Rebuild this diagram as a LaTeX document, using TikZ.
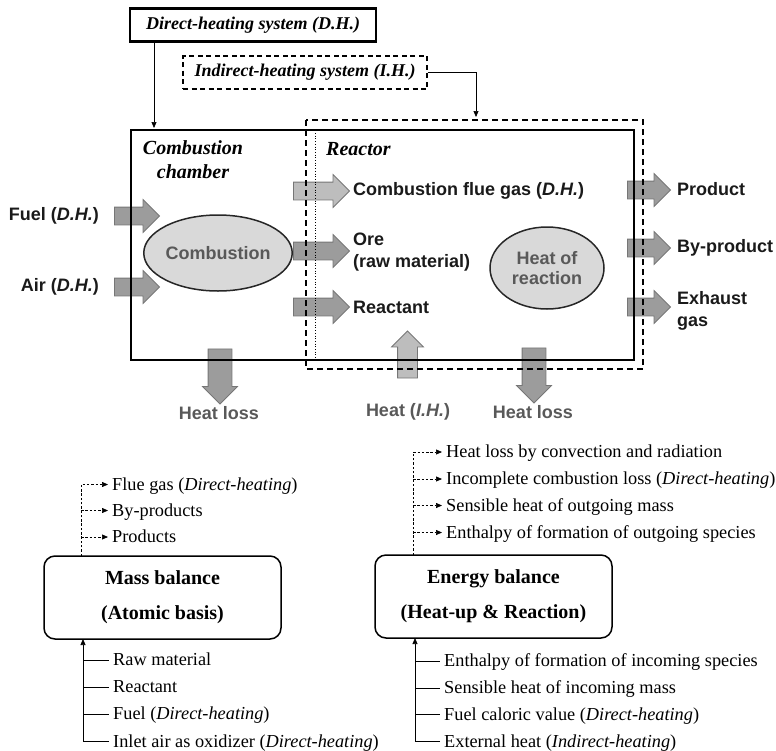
\documentclass[tikz,border=0pt]{standalone}
\usepackage{fontspec}
\setmainfont{Liberation Serif}
\newfontfamily\arialf{Liberation Sans}
\usetikzlibrary{shapes.arrows,shapes.geometric,arrows.meta}
\definecolor{arrfill}{HTML}{9C9C9C}
\definecolor{arrlight}{HTML}{BDBDBD}
\definecolor{arrline}{HTML}{767676}
\definecolor{ellfill}{HTML}{D9D9D9}
\definecolor{txtgray}{HTML}{595959}
\definecolor{txtdark}{HTML}{1A1A1A}
\begin{document}
\begin{tikzpicture}[x=1pt,y=-1pt,
  blk/.style={single arrow, draw=arrline, line width=0.8pt, fill=arrfill, inner xsep=0pt, inner ysep=8.5pt,
    minimum width=0pt, single arrow head extend=7.5pt, minimum height=#1},
  blkv/.style={single arrow, draw=arrline, line width=0.8pt, fill=arrfill, inner xsep=0pt, inner ysep=11.5pt,
    minimum width=0pt, single arrow head extend=5.5pt, minimum height=#1},
  sanslbl/.style={font=\arialf\bfseries\fontsize{18}{22}\selectfont, text=txtdark, inner sep=0pt},
  graylbl/.style={font=\arialf\bfseries\fontsize{18}{22}\selectfont, text=txtgray, inner sep=0pt},
  titlebox/.style={font=\bfseries\itshape\fontsize{18}{22}\selectfont, inner sep=0pt, minimum height=33pt},
  bigital/.style={font=\bfseries\itshape\fontsize{20}{24}\selectfont, inner sep=0pt, align=center},
  reacell/.style={ellipse, draw=black!85, line width=1.5pt, fill=ellfill, inner sep=0pt,
    font=\arialf\bfseries\fontsize{18}{20}\selectfont, text=txtgray, align=center},
  balbox/.style={draw, line width=1.5pt, rounded corners=11pt, minimum width=237pt, minimum height=83pt,
    inner sep=0pt, align=center, font=\bfseries\fontsize{20}{35}\selectfont},
  item/.style={anchor=base west, inner sep=0pt, font=\fontsize{18.3}{20}\selectfont},
  thin/.style={line width=0.7pt, -{Triangle[length=6pt,width=5pt]}},
  thindash/.style={line width=0.7pt, dash pattern=on 2.5pt off 1.8pt, -{Triangle[length=6pt,width=5pt]}},
  stub/.style={line width=0.7pt}
]
\useasboundingbox (0,0) rectangle (776,750);

% ---------- system boxes ----------
\node[titlebox, draw, line width=2.2pt, minimum width=246pt] (dh) at (253,25) {Direct-heating system (D.H.)};
\node[titlebox, draw, line width=1.3pt, dash pattern=on 5pt off 3.5pt, minimum width=244pt] (ih) at (305,72.5) {Indirect-heating system (I.H.)};
\coordinate (dhT) at (154,128);
\coordinate (ihT) at (476,117);
\draw[thin] (dh.south -| dhT) -- (dhT);
\draw[thin] (ih.east) -| (ihT);

% ---------- block arrows ----------
\node[blk=45pt] (afuel) at (132.5,216) {};
\node[blk=45pt] (aair) at (132.5,287) {};
\node[blk=56pt, fill=arrlight] (aflue) at (317,191) {};
\node[blk=56pt] (aore) at (317,251) {};
\node[blk=56pt] (areac) at (317,307) {};
\node[blk=43pt] (aprod) at (644.5,190) {};
\node[blk=43pt] (abyp) at (644.5,248) {};
\node[blk=43pt] (aexh) at (644.5,307) {};
\node[blkv=55pt, rotate=-90] (aloss1) at (220,370.5) {};
\node[blkv=55pt, rotate=-90] (aloss2) at (534,369.5) {};
\node[blkv=47pt, rotate=90, fill=arrlight, inner ysep=9.5pt, single arrow head extend=6pt] (aheat) at (407.5,359.5) {};

% ---------- reactor boxes ----------
\draw[line width=2pt] (131,130) rectangle (634,360);
\draw[line width=1.4pt, dash pattern=on 6pt off 4pt] (306,120) rectangle (643,369);
\draw[line width=0.7pt, dotted] (315,133) -- (315,358);

% ---------- ellipses ----------
\node[reacell, minimum width=130pt, minimum height=76pt] (comb) at (218,253) {Combustion};
\node[reacell, minimum width=114pt, minimum height=82pt] (hor) at (547,268) {Heat of\\reaction};

% ---------- labels ----------
\node[bigital] (lcc) at (193,160) {Combustion\\chamber};
\node[bigital, anchor=west] (lre) at (326,149) {Reactor};
\node[sanslbl, anchor=east] (lfuel) at (99,216) {Fuel (\textit{D.H.})};
\node[sanslbl, anchor=east] (lair) at (99,287) {Air (\textit{D.H.})};
\node[sanslbl, anchor=west] (lflue) at (353,191) {Combustion flue gas (\textit{D.H.})};
\node[sanslbl, anchor=west, align=left] (lore) at (353,252) {Ore\\(raw material)};
\node[sanslbl, anchor=west] (lreac) at (353,307) {Reactant};
\node[sanslbl, anchor=west] (lprod) at (677,189) {Product};
\node[sanslbl, anchor=west] (lbyp) at (677,248) {By-product};
\node[sanslbl, anchor=west, align=left] (lexh) at (677,311) {Exhaust\\gas};
\node[graylbl] (lloss1) at (219,413) {Heat loss};
\node[graylbl] (lheat) at (408,412) {Heat (\textit{I.H.})};
\node[graylbl] (lloss2) at (533,412) {Heat loss};

% ---------- balance boxes ----------
\node[balbox] (mb) at (162.5,597.5) {Mass balance\\(Atomic basis)};
\node[balbox] (eb) at (493.5,596.5) {Energy balance\\(Heat-up \& Reaction)};

% mass out
\node[item] (mo1) at (112,490) {Flue gas (\textit{Direct-heating})};
\node[item] (mo2) at (112,516) {By-products};
\node[item] (mo3) at (112,542.5) {Products};
\coordinate (mov) at (81,556);
\draw[thindash] (mov) |- ([shift={(-4,-5.5)}]mo1.base west);
\draw[thindash] (mov |- mo2.base) ++(0,-5.5) -- ([shift={(-4,-5.5)}]mo2.base west);
\draw[thindash] (mov |- mo3.base) ++(0,-5.5) -- ([shift={(-4,-5.5)}]mo3.base west);

% mass in
\node[item] (mi1) at (113,665.5) {Raw material};
\node[item] (mi2) at (113,692.5) {Reactant};
\node[item] (mi3) at (113,719.5) {Fuel (\textit{Direct-heating})};
\node[item] (mi4) at (113,747) {Inlet air as oxidizer (\textit{Direct-heating})};
\coordinate (miv) at (83,639);
\draw[thin] ([shift={(-4,-5.5)}]mi4.base west) -| (miv);
\foreach \n in {mi1,mi2,mi3}
  \draw[stub] (miv |- \n.base) ++(0,-5.5) -- ([shift={(-4,-5.5)}]\n.base west);

% energy out
\node[item] (eo1) at (446,457.5) {Heat loss by convection and radiation};
\node[item] (eo2) at (446,484.5) {Incomplete combustion loss (\textit{Direct-heating})};
\node[item] (eo3) at (446,511) {Sensible heat of outgoing mass};
\node[item] (eo4) at (446,538) {Enthalpy of formation of outgoing species};
\coordinate (eov) at (413,555);
\draw[thindash] (eov) |- ([shift={(-4,-5.5)}]eo1.base west);
\foreach \n in {eo2,eo3,eo4}
  \draw[thindash] (eov |- \n.base) ++(0,-5.5) -- ([shift={(-4,-5.5)}]\n.base west);

% energy in
\node[item] (ei1) at (444,666.5) {Enthalpy of formation of incoming species};
\node[item] (ei2) at (444,693.5) {Sensible heat of incoming mass};
\node[item] (ei3) at (444,720) {Fuel caloric value (\textit{Direct-heating})};
\node[item] (ei4) at (444,747) {External heat (\textit{Indirect-heating})};
\coordinate (eiv) at (415,638);
\draw[thin] ([shift={(-4,-5.5)}]ei4.base west) -| (eiv);
\foreach \n in {ei1,ei2,ei3}
  \draw[stub] (eiv |- \n.base) ++(0,-5.5) -- ([shift={(-4,-5.5)}]\n.base west);
\end{tikzpicture}
\end{document}
